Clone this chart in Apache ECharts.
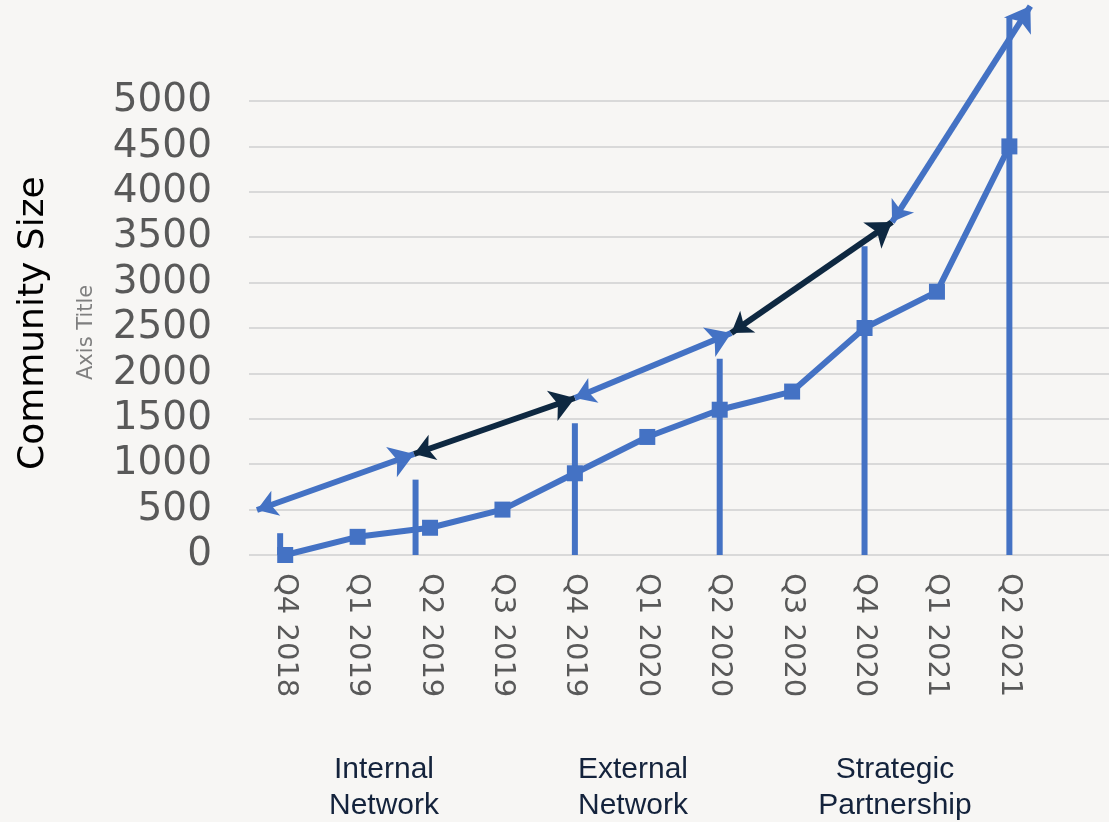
<!DOCTYPE html>
<html>
<head>
<meta charset="utf-8">
<script src="https://cdn.jsdelivr.net/npm/echarts@6/dist/echarts.min.js"></script>
<style>
html,body{margin:0;padding:0;background:#f7f6f4;}
#chart{width:1109px;height:822px;}
</style>
</head>
<body>
<div id="chart"></div>
<script>
// Categories (last slot is an empty spacer as in the original)
const categories = ['Q4 2018','Q1 2019','Q2 2019','Q3 2019','Q4 2019','Q1 2020','Q2 2020','Q3 2020','Q4 2020','Q1 2021','Q2 2021',''];
// Community size per quarter
const communitySize = [0, 200, 300, 500, 900, 1300, 1600, 1800, 2500, 2900, 4500, null];
// Vertical milestone bars: [position index, height]
const milestoneBars = [[-0.07, 240], [1.8, 830], [4, 1450], [6, 2160], [8, 3400], [10, 5925]];
// Arrow end points: [position index, value]
const arrowPoints = [[-0.39, 496], [1.78, 1112], [4.0, 1729], [6.16, 2445], [8.38, 3667], [10.29, 6046]];
const arrowColors = ['#4472c4', '#0e2841', '#4472c4', '#0e2841', '#4472c4'];
// Phase labels
const phaseLabels = ['Internal\nNetwork', 'External\nNetwork', 'Strategic\nPartnership'];
const phaseCenters = [384, 633, 895];
const yTicks = {min: 0, max: 5000, interval: 500};

const chart = echarts.init(document.getElementById('chart'));
const arrowData = [];
for (let i = 0; i < arrowPoints.length - 1; i++) {
  arrowData.push({coords: [arrowPoints[i], arrowPoints[i + 1]], lineStyle: {color: arrowColors[i]}});
}
const g = [];
g.push({type: 'text', x: 16, y: 470, rotation: Math.PI / 2,
  style: {text: 'Community Size', font: '36px "DejaVu Sans"', fill: '#000', textVerticalAlign: 'top'}, silent: true});
g.push({type: 'text', x: 76, y: 380, rotation: Math.PI / 2,
  style: {text: 'Axis Title', font: '21px "DejaVu Sans"', fill: '#7f7f7f', textVerticalAlign: 'top'}, silent: true});
phaseLabels.forEach((t, i) => {
  g.push({type: 'text', x: phaseCenters[i], y: 752,
    style: {text: t, font: '30px "Liberation Sans Narrow", "Liberation Sans"', fill: '#14233c', textAlign: 'center', lineHeight: 36}, silent: true});
});
const option = {
  backgroundColor: '#f7f6f4',
  animation: false,
  grid: {left: 249, top: 101, width: 869, height: 454, containLabel: false, outerBoundsMode: 'none'},
  xAxis: [
    {type: 'category', data: categories, boundaryGap: true,
     axisLine: {show: false}, axisTick: {show: false},
     axisLabel: {rotate: -90, margin: 18, color: '#595959', fontSize: 29, fontFamily: 'DejaVu Sans', interval: 0}},
    {type: 'value', min: -0.5, max: 11.5, show: false}
  ],
  yAxis: {type: 'value', min: yTicks.min, max: yTicks.max, interval: yTicks.interval,
    axisLine: {show: false}, axisTick: {show: false},
    splitLine: {lineStyle: {color: '#d9d9d9', width: 2}},
    axisLabel: {color: '#595959', fontSize: 39, fontFamily: 'DejaVu Sans', margin: 37,
      formatter: v => String(v)}},
  series: [
    {type: 'bar', xAxisIndex: 1, data: milestoneBars, barWidth: 6, clip: false,
     itemStyle: {color: '#4472c4'}, z: 2},
    {type: 'line', xAxisIndex: 0, data: communitySize, symbol: 'rect', symbolSize: 16,
     lineStyle: {color: '#4472c4', width: 6}, itemStyle: {color: '#4472c4'}, z: 3},
    {type: 'lines', coordinateSystem: 'cartesian2d', xAxisIndex: 1, clip: false,
     symbol: ['arrow', 'arrow'], symbolSize: [20, 24], symbolOffset: [0, 12],
     lineStyle: {width: 6, opacity: 1}, data: arrowData, z: 4}
  ],
  graphic: g
};
chart.setOption(option);
</script>
</body>
</html>
